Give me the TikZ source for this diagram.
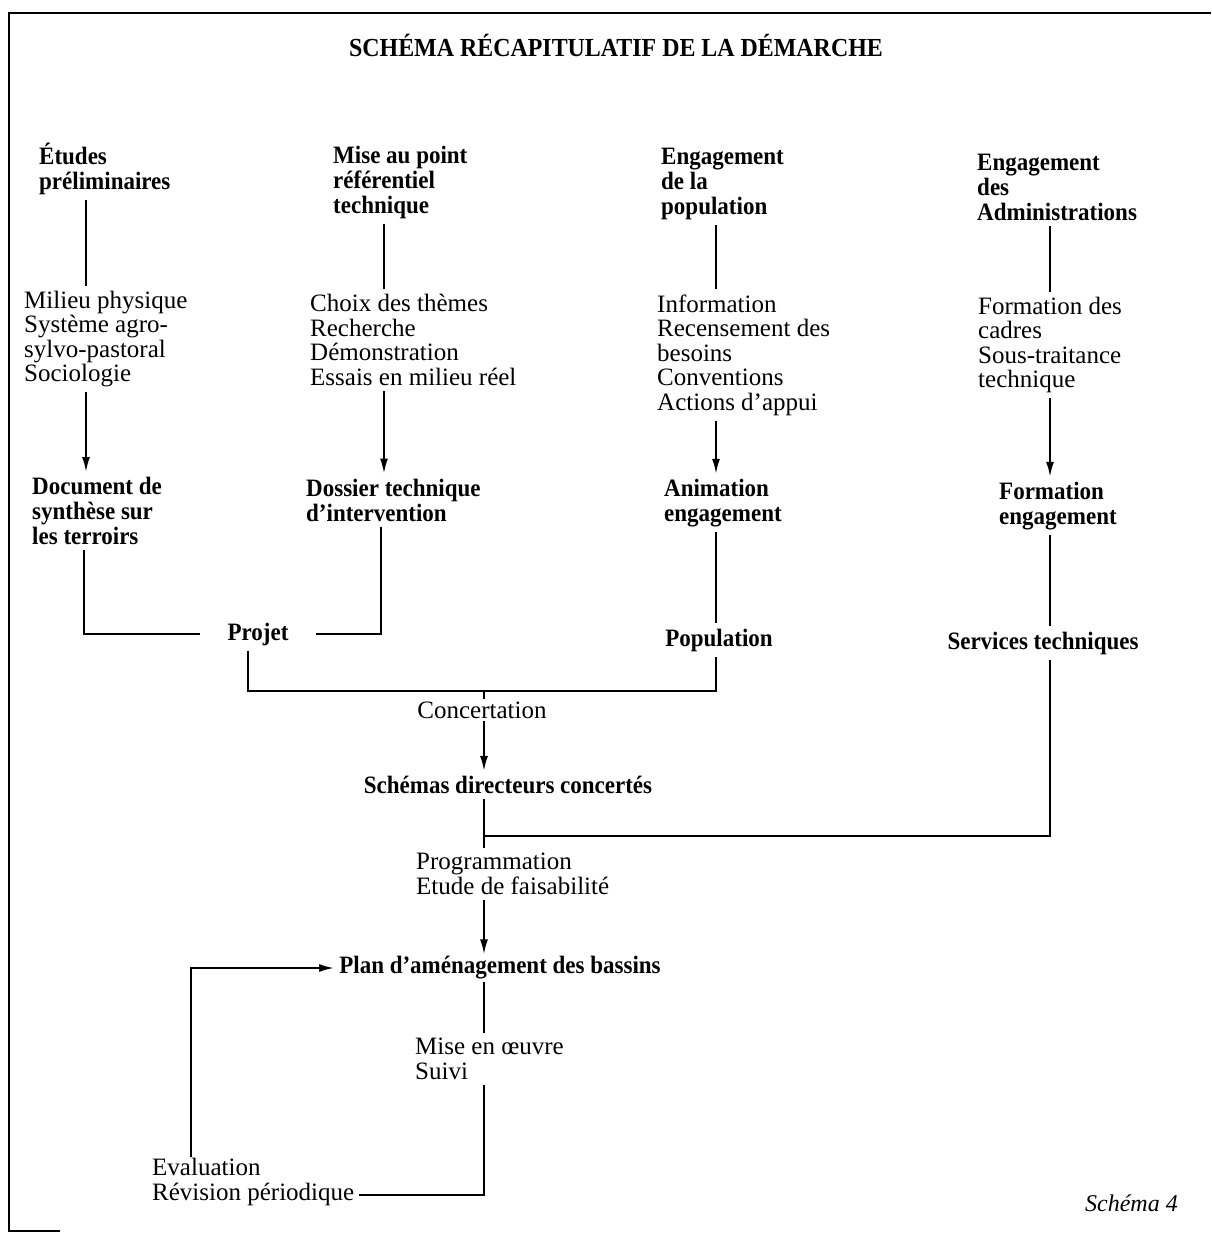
\documentclass[tikz,border=0pt]{standalone}
\usepackage{fontspec}
\setmainfont{Liberation Serif}
\newfontfamily\bcondfont[FakeStretch=0.92]{Liberation Serif}
\usetikzlibrary{arrows.meta,calc}
\begin{document}
\begin{tikzpicture}[x=1pt,y=-1pt,
  reg/.style={font=\fontsize{25}{24.5}\selectfont, align=left, inner sep=5pt, anchor=west},
  bld/.style={font=\bcondfont\fontsize{25}{25}\selectfont\bfseries, align=left, inner sep=5pt, anchor=west},
  ttl/.style={font=\bcondfont\fontsize{26}{28}\selectfont\bfseries, inner sep=0pt},
  ln/.style={line width=2pt},
  arr/.style={line width=2pt, -{Latex[length=15pt,width=8pt]}},
]
\useasboundingbox (0,0) rectangle (1211,1236);
\fill[white] (0,0) rectangle (1211,1236);
% frame
\draw[line width=2pt] (1211,13) -- (9,13) -- (9,1231) -- (60,1231);

% title
\node[ttl] (title) at (616,45) {SCHÉMA RÉCAPITULATIF DE LA DÉMARCHE};

% column 1
\node[bld] (etudes) at (34,169) {Études\\préliminaires};
\node[reg] (milieu) at (19,339) {Milieu physique\\Système agro-\\sylvo-pastoral\\Sociologie};
\node[bld] (document) at (27,511) {Document de\\synthèse sur\\les terroirs};
\node[bld, anchor=center, inner xsep=27pt] (projet) at (258,634) {Projet};

% column 2
\node[bld] (mise) at (328,182) {Mise au point\\référentiel\\technique};
\node[reg] (choix) at (305,340) {Choix des thèmes\\Recherche\\Démonstration\\Essais en milieu réel};
\node[bld] (dossier) at (301,500) {Dossier technique\\d’intervention};

% column 3
\node[bld] (engpop) at (656,184) {Engagement\\de la\\population};
\node[reg] (info) at (652,355) {Information\\Recensement des\\besoins\\Conventions\\Actions d’appui};
\node[bld] (anim) at (659,503) {Animation\\engagement};
\node[bld, anchor=center] (popul) at (719,640) {Population};

% column 4
\node[bld] (engadm) at (972,187) {Engagement\\des\\Administrations};
\node[reg] (formdes) at (973,345) {Formation des\\cadres\\Sous-traitance\\technique};
\node[bld] (formeng) at (994,506) {Formation\\engagement};
\node[bld, anchor=center] (serv) at (1043,643) {Services techniques};

% centre
\node[reg, anchor=center, inner ysep=2pt] (concert) at (482,710) {Concertation};
\node[bld, anchor=center] (schemas) at (508,785) {Schémas directeurs concertés};
\node[reg] (prog) at (411,874) {Programmation\\Etude de faisabilité};
\node[bld, anchor=center, inner ysep=2pt] (plan) at (500,968) {Plan d’aménagement des bassins};
\node[reg] (moe) at (410,1059) {Mise en œuvre\\Suivi};
\node[reg, inner ysep=1pt] (eval) at (147,1182) {Evaluation\\Révision périodique};
\node[font=\fontsize{24}{26}\selectfont\itshape, anchor=east, inner sep=0pt] (s4) at (1178,1203) {Schéma 4};

% helper x positions
\coordinate (c1) at (86,0);
\coordinate (cd) at (84,0);
\coordinate (c2) at (384,0);
\coordinate (cr) at (381,0);
\coordinate (c3) at (716,0);
\coordinate (c4) at (1050,0);
\coordinate (cm) at (484,0);
\coordinate (cp) at (248,0);
\coordinate (cl) at (191,0);
\coordinate (j1) at (484,691);
\coordinate (j2) at (484,836);

% connectors column 1
\draw[ln] (etudes.south -| c1) -- (milieu.north -| c1);
\draw[arr] (milieu.south -| c1) -- (document.north -| c1);
\draw[ln] (document.south -| cd) |- (projet.west);
% column 2
\draw[ln] (mise.south -| c2) -- (choix.north -| c2);
\draw[arr] (choix.south -| c2) -- (dossier.north -| c2);
\draw[ln] (dossier.south -| cr) |- (projet.east);
% column 3
\draw[ln] (engpop.south -| c3) -- (info.north -| c3);
\draw[arr] (info.south -| c3) -- (anim.north -| c3);
\draw[ln] (anim.south -| c3) -- (popul.north -| c3);
% column 4
\draw[ln] (engadm.south -| c4) -- (formdes.north -| c4);
\draw[arr] (formdes.south -| c4) -- (formeng.north -| c4);
\draw[ln] (formeng.south -| c4) -- (serv.north -| c4);
% joins
\draw[ln] (projet.south -| cp) |- (j1) -| (popul.south -| c3);
\draw[ln] (j1) -- (concert.north -| j1);
\draw[arr] (concert.south -| cm) -- (schemas.north -| cm);
\draw[ln] (schemas.south -| cm) -- (prog.north -| cm);
\draw[ln] (serv.south -| c4) |- (j2);
\draw[arr] (prog.south -| cm) -- (plan.north -| cm);
\draw[ln] (plan.south -| cm) -- (moe.north -| cm);
\draw[ln] (moe.south -| cm) |- ($(eval.south east)+(0,-12)$);
\draw[arr] (eval.north -| cl) |- (plan.west);
\end{tikzpicture}
\end{document}
